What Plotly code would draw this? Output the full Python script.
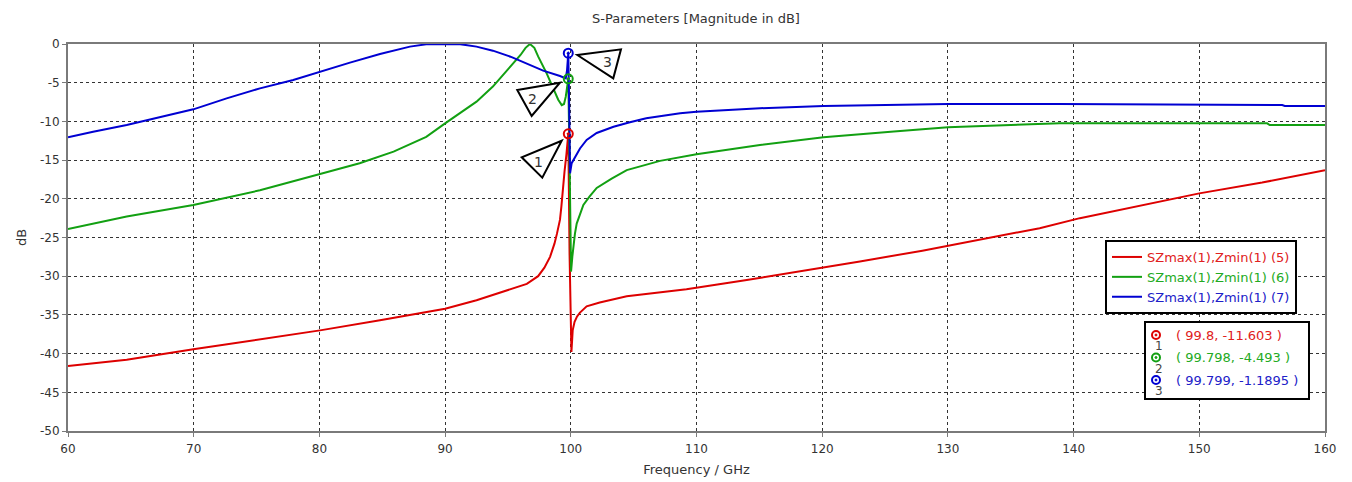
import plotly.graph_objects as go

# ---------------- data ----------------
f5 = [60, 64.67, 69.97, 75.27, 80.05, 84.82, 90, 92.5, 94.9, 96.5, 97.4, 97.9, 98.35, 98.7, 98.9, 99.14, 99.25, 99.35, 99.5, 99.65, 99.8,
      99.9, 99.97, 100.05, 100.15, 100.3, 100.5, 100.73, 101.26, 102.3, 104.45, 106.5, 109.2, 114, 118.6,
      123, 127.97, 133.6, 137.3, 140.5, 145, 150, 155, 160]
s5 = [-41.6, -40.8, -39.45, -38.2, -37.0, -35.7, -34.2, -33.1, -31.8, -31.0, -30.0, -28.9, -27.5, -25.8, -24.5, -22.7, -21.0, -18.8, -16.5, -14.3, -11.603,
      -27.0, -36.0, -39.8, -37.0, -35.9, -35.2, -34.7, -33.9, -33.4, -32.6, -32.2, -31.7, -30.5, -29.3,
      -28.1, -26.7, -24.9, -23.8, -22.5, -21.0, -19.3, -17.9, -16.3]

f6 = [60, 64.67, 69.97, 75.27, 80.05, 83.2, 85.9, 88.5, 90, 91.2, 92.5, 93.8, 95.2, 96, 96.4, 96.75, 97.1, 97.4, 98.08, 98.6, 99.0, 99.28, 99.46, 99.6, 99.8,
      99.9, 99.97, 100.02, 100.12, 100.2, 100.33, 100.47, 100.73, 101.0, 101.5, 102.06, 103.25, 104.45, 107.1, 110, 115.05,
      120.1, 125.7, 130, 135, 138.9, 145, 150, 155.4, 155.6, 160]
s6 = [-23.9, -22.3, -20.8, -18.9, -16.8, -15.4, -13.9, -12.0, -10.25, -8.96, -7.45, -5.5, -2.9, -1.42, -0.5, 0.0, -0.5, -1.6, -3.8, -5.7, -7.2, -7.9, -7.75, -6.8, -4.493,
      -15.0, -25.0, -29.4, -27.5, -26.2, -24.5, -23.2, -21.9, -20.8, -19.7, -18.6, -17.4, -16.3, -15.1, -14.25, -13.05,
      -12.05, -11.3, -10.76, -10.45, -10.25, -10.25, -10.25, -10.25, -10.47, -10.47]

f7 = [60, 62.0, 64.67, 67.32, 69.97, 72.62, 75.27, 77.92, 80.05, 82.43, 84.82, 87.2, 88.5, 90, 91.2, 92.5, 93.8, 95.2, 96.5, 97.8, 99.14, 99.4, 99.6, 99.7, 99.8,
      99.87, 99.94, 100.07, 100.33, 100.73, 101.26, 102.06, 103.4, 104.7, 106.0, 108.7, 110, 115.05, 120.1, 125.7, 130,
      138.9, 145, 150, 156.6, 156.8, 160]
s7 = [-12.06, -11.33, -10.47, -9.48, -8.44, -7.02, -5.73, -4.65, -3.57, -2.41, -1.29, -0.34, -0.04, 0.0, -0.02, -0.34, -0.86, -1.64, -2.5, -3.44, -4.13, -4.3, -4.45, -3.4, -1.1895,
      -8.0, -16.7, -15.4, -14.6, -13.5, -12.4, -11.5, -10.7, -10.1, -9.6, -8.95, -8.74, -8.3, -8.0, -7.88, -7.75,
      -7.75, -7.8, -7.85, -7.88, -8.0, -8.0]

series_names = ["SZmax(1),Zmin(1) (5)", "SZmax(1),Zmin(1) (6)", "SZmax(1),Zmin(1) (7)"]
series_colors = ["#dd0000", "#12a012", "#0000d2"]
text_colors = ["#e02020", "#22aa22", "#2020c8"]

marker_x = [99.8, 99.798, 99.799]
marker_y = [-11.603, -4.493, -1.1895]
marker_lbl = ["1", "2", "3"]
marker_txt = ["( 99.8, -11.603 )", "( 99.798, -4.493 )", "( 99.799, -1.1895 )"]

x_ticks = [60, 70, 80, 90, 100, 110, 120, 130, 140, 150, 160]
y_ticks = [0, -5, -10, -15, -20, -25, -30, -35, -40, -45, -50]
y_tick_text = ["0", "-5", "-10", "-15", "-20", "-25", "-30", "-35", "-40", "-45", "-50"]

FONT = "DejaVu Sans"

fig = go.Figure()
for fx, sy, nm, col, tc in zip([f5, f6, f7], [s5, s6, s7], series_names, series_colors, text_colors):
    fig.add_trace(go.Scatter(x=fx, y=sy, mode="lines", line=dict(color=col, width=2),
                             name=f"<span style='color:{tc}'>{nm}</span>"))

# markers on the curves
for mx, my, col in zip(marker_x, marker_y, series_colors):
    fig.add_trace(go.Scatter(x=[mx], y=[my], mode="markers", showlegend=False,
                             marker=dict(symbol="circle-open-dot", size=9, color=col, line=dict(width=2, color=col))))

# callout triangles anchored to the markers (pixel offsets)
tri_offsets = [
    [(-6.6, -6.9), (-46.6, -23.5), (-26, -43.9)],
    [(-8.3, -3.9), (-51, -11.2), (-36.6, -37.2)],
    [(9, -1.8), (52.7, 3.9), (45, -25.1)],
]
lbl_offsets = [(-29.6, -28.5), (-35.6, -20.2), (39, -9.1)]
for mx, my, tri, lo, lb in zip(marker_x, marker_y, tri_offsets, lbl_offsets, marker_lbl):
    path = "M {} {} L {} {} L {} {} Z".format(tri[0][0], tri[0][1], tri[1][0], tri[1][1], tri[2][0], tri[2][1])
    fig.add_shape(type="path", xref="x", yref="y", xsizemode="pixel", ysizemode="pixel",
                  xanchor=mx, yanchor=my, path=path, line=dict(color="black", width=2), fillcolor="white")
    fig.add_annotation(x=mx, y=my, xref="x", yref="y", text=lb, showarrow=False,
                       xshift=lo[0], yshift=lo[1], xanchor="center", yanchor="middle",
                       font=dict(family=FONT, size=14, color="#333333"))

# page-pixel geometry of the plot area (the page body has an 8px margin)
OFF = 8
W, H = 1352 - OFF, 482 - OFF
L, R, T, B = 68, 1325, 44, 431


def px(x):
    return (x - L) / (R - L)


def py(y):
    return (B - y) / (B - T)


# marker info box
fig.add_shape(type="rect", xref="paper", yref="paper", x0=px(1145), x1=px(1309), y0=py(399), y1=py(322),
              line=dict(color="black", width=2), fillcolor="white", layer="above")
for i, (col, tc, lb, tx) in enumerate(zip(series_colors, text_colors, marker_lbl, marker_txt)):
    ry = 335 + i * 22.5
    fig.add_shape(type="circle", xref="paper", yref="paper", xsizemode="pixel", ysizemode="pixel",
                  xanchor=px(1156), yanchor=py(ry), x0=-4, x1=4, y0=-4, y1=4,
                  line=dict(color=col, width=2), layer="above")
    fig.add_shape(type="circle", xref="paper", yref="paper", xsizemode="pixel", ysizemode="pixel",
                  xanchor=px(1156), yanchor=py(ry), x0=-1, x1=1, y0=-1, y1=1,
                  line=dict(color=col, width=1), fillcolor=col, layer="above")
    fig.add_annotation(x=px(1159), y=py(ry + 11), xref="paper", yref="paper", text=lb, showarrow=False,
                       xanchor="center", yanchor="middle",
                       font=dict(family=FONT, size=12, color="#444444"))
    fig.add_annotation(x=px(1174), y=py(ry), xref="paper", yref="paper", text=tx, showarrow=False,
                       xanchor="left", yanchor="middle", font=dict(family=FONT, size=13, color=tc))

axis_common = dict(showline=True, mirror=True, linecolor="#7a7a7a", linewidth=2,
                   ticks="outside", ticklen=4, tickcolor="#7a7a7a", tickwidth=1,
                   showgrid=True, gridcolor="#333333", gridwidth=1, griddash="3px,3px",
                   zeroline=False, automargin=False,
                   tickfont=dict(family=FONT, size=12, color="#333333"))

fig.update_layout(
    width=W, height=H,
    margin=dict(l=L - OFF, r=W - (R - OFF), t=T - OFF, b=H - (B - OFF), autoexpand=False),
    paper_bgcolor="white", plot_bgcolor="white",
    title=dict(text="S-Parameters [Magnitude in dB]", x=px(696), xref="paper", xanchor="center",
               y=1 - (18 - OFF) / H, yanchor="middle", font=dict(family=FONT, size=13, color="#333333")),
    xaxis=dict(range=[60, 160], tickvals=x_ticks, ticklabelstandoff=2,
               title=dict(text="Frequency / GHz", standoff=9, font=dict(family=FONT, size=13, color="#333333")),
               **axis_common),
    yaxis=dict(range=[-50, 0], tickvals=y_ticks, ticktext=y_tick_text,
               title=dict(text="dB", standoff=10, font=dict(family=FONT, size=13, color="#333333")),
               **axis_common),
    legend=dict(x=px(1105), y=py(240), xanchor="left", yanchor="top", bordercolor="black", borderwidth=2,
                bgcolor="white", font=dict(family=FONT, size=13), tracegroupgap=0),
    showlegend=True,
)

fig.write_html("out.html")
